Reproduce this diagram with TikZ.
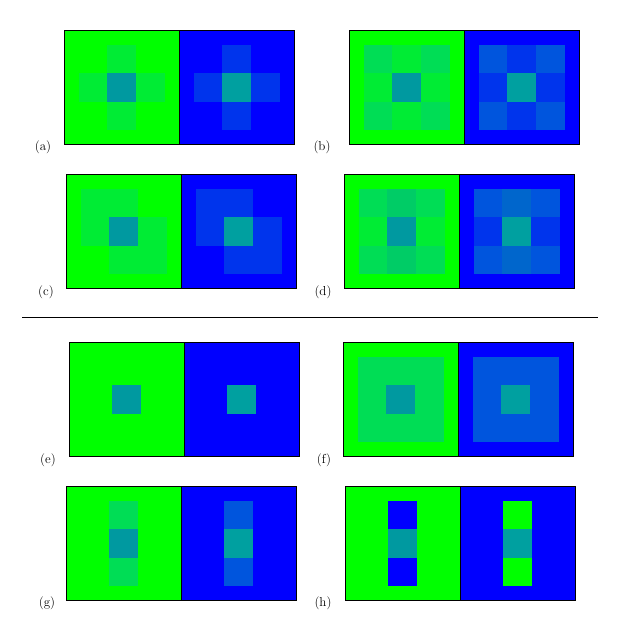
\documentclass[tikz,border=0pt]{standalone}
\definecolor{gbase}{RGB}{0,255,0}
\definecolor{bbase}{RGB}{0,0,255}
\definecolor{tl}{RGB}{0,153,160}
\definecolor{tr}{RGB}{0,160,160}
\definecolor{ga}{RGB}{0,236,52}
\definecolor{gb}{RGB}{0,221,85}
\definecolor{gc}{RGB}{0,204,102}
\definecolor{ba}{RGB}{0,52,236}
\definecolor{bb}{RGB}{0,85,221}
\definecolor{bc}{RGB}{0,102,204}
\newcommand\pcl[7]{\fill[#7] ({#1+#3*28.75},{-(#2+#4*28.5)}) rectangle ({#1+#5*28.75},{-(#2+#6*28.5)});}
\newcommand\pcr[7]{\pcl{#1+115}{#2}{#3}{#4}{#5}{#6}{#7}}
\newcommand\pbg[2]{\fill[gbase] (#1,-#2) rectangle ({#1+115},{-#2-114});\fill[bbase] ({#1+115},-#2) rectangle ({#1+230},{-#2-114});}
\newcommand\pfrm[2]{\draw[bord] (#1,-#2) rectangle ({#1+230},{-#2-114});\draw[bord] ({#1+115},-#2) -- ({#1+115},{-#2-114});}
\newcommand\pctr[2]{\pcl{#1}{#2}{1.5}{1.5}{2.5}{2.5}{tl}\pcr{#1}{#2}{1.5}{1.5}{2.5}{2.5}{tr}}
% 3x3 ring: corners, top/bottom middle, left/right middle
\newcommand\pring[8]{%
\pcl{#1}{#2}{0.5}{0.5}{1.5}{1.5}{#3}\pcl{#1}{#2}{2.5}{0.5}{3.5}{1.5}{#3}%
\pcl{#1}{#2}{0.5}{2.5}{1.5}{3.5}{#3}\pcl{#1}{#2}{2.5}{2.5}{3.5}{3.5}{#3}%
\pcl{#1}{#2}{1.5}{0.5}{2.5}{1.5}{#4}\pcl{#1}{#2}{1.5}{2.5}{2.5}{3.5}{#4}%
\pcl{#1}{#2}{0.5}{1.5}{1.5}{2.5}{#5}\pcl{#1}{#2}{2.5}{1.5}{3.5}{2.5}{#5}%
\pcr{#1}{#2}{0.5}{0.5}{1.5}{1.5}{#6}\pcr{#1}{#2}{2.5}{0.5}{3.5}{1.5}{#6}%
\pcr{#1}{#2}{0.5}{2.5}{1.5}{3.5}{#6}\pcr{#1}{#2}{2.5}{2.5}{3.5}{3.5}{#6}%
\pcr{#1}{#2}{1.5}{0.5}{2.5}{1.5}{#7}\pcr{#1}{#2}{1.5}{2.5}{2.5}{3.5}{#7}%
\pcr{#1}{#2}{0.5}{1.5}{1.5}{2.5}{#8}\pcr{#1}{#2}{2.5}{1.5}{3.5}{2.5}{#8}}
\begin{document}
\begin{tikzpicture}[x=1pt,y=1pt,
  bord/.style={draw=black,line width=0.9pt},
  lab/.style={font=\fontsize{13}{15}\selectfont,inner sep=0pt}]
\useasboundingbox[fill=white] (0,0) rectangle (621,-633);
% (a)
\pbg{64.3}{30.3}
\pcl{64.3}{30.3}{1.5}{0.5}{2.5}{1.5}{ga}\pcl{64.3}{30.3}{1.5}{2.5}{2.5}{3.5}{ga}
\pcl{64.3}{30.3}{0.5}{1.5}{1.5}{2.5}{ga}\pcl{64.3}{30.3}{2.5}{1.5}{3.5}{2.5}{ga}
\pcr{64.3}{30.3}{1.5}{0.5}{2.5}{1.5}{ba}\pcr{64.3}{30.3}{1.5}{2.5}{2.5}{3.5}{ba}
\pcr{64.3}{30.3}{0.5}{1.5}{1.5}{2.5}{ba}\pcr{64.3}{30.3}{2.5}{1.5}{3.5}{2.5}{ba}
\pctr{64.3}{30.3}
\pfrm{64.3}{30.3}
\node[lab] (la) at (43,-147) {(a)};
% (b)
\pbg{349.3}{30.3}
\pring{349.3}{30.3}{gb}{ga}{ga}{bb}{ba}{ba}
\pctr{349.3}{30.3}
\pfrm{349.3}{30.3}
\node[lab] (lb) at (322,-147) {(b)};
% (c)
\pbg{66.3}{174.3}
\pcl{66.3}{174.3}{0.5}{0.5}{2.5}{2.5}{ga}\pcl{66.3}{174.3}{1.5}{1.5}{3.5}{3.5}{ga}
\pcr{66.3}{174.3}{0.5}{0.5}{2.5}{2.5}{ba}\pcr{66.3}{174.3}{1.5}{1.5}{3.5}{3.5}{ba}
\pctr{66.3}{174.3}
\pfrm{66.3}{174.3}
\node[lab] (lc) at (46,-292) {(c)};
% (d)
\pbg{344.3}{174.3}
\pring{344.3}{174.3}{gb}{gc}{ga}{bb}{bc}{ba}
\pctr{344.3}{174.3}
\pfrm{344.3}{174.3}
\node[lab] (ld) at (323,-292) {(d)};
% separator
\coordinate (s1) at (22,-317);
\coordinate (s2) at (598,-317);
\draw[line width=0.8pt] (s1) -- (s2);
% (e)
\pbg{69.3}{342.3}
\pctr{69.3}{342.3}
\pfrm{69.3}{342.3}
\node[lab] (le) at (48,-460) {(e)};
% (f)
\pbg{343.3}{342.3}
\pcl{343.3}{342.3}{0.5}{0.5}{3.5}{3.5}{gb}
\pcr{343.3}{342.3}{0.5}{0.5}{3.5}{3.5}{bb}
\pctr{343.3}{342.3}
\pfrm{343.3}{342.3}
\node[lab] (lf) at (324,-460) {(f)};
% (g)
\pbg{66.3}{486.3}
\pcl{66.3}{486.3}{1.5}{0.5}{2.5}{3.5}{gb}
\pcr{66.3}{486.3}{1.5}{0.5}{2.5}{3.5}{bb}
\pctr{66.3}{486.3}
\pfrm{66.3}{486.3}
\node[lab] (lg) at (47,-603) {(g)};
% (h)
\pbg{345.3}{486.3}
\pcl{345.3}{486.3}{1.5}{0.5}{2.5}{3.5}{bbase}
\pcr{345.3}{486.3}{1.5}{0.5}{2.5}{3.5}{gbase}
\pctr{345.3}{486.3}
\pfrm{345.3}{486.3}
\node[lab] (lh) at (323,-603) {(h)};
\end{tikzpicture}
\end{document}
